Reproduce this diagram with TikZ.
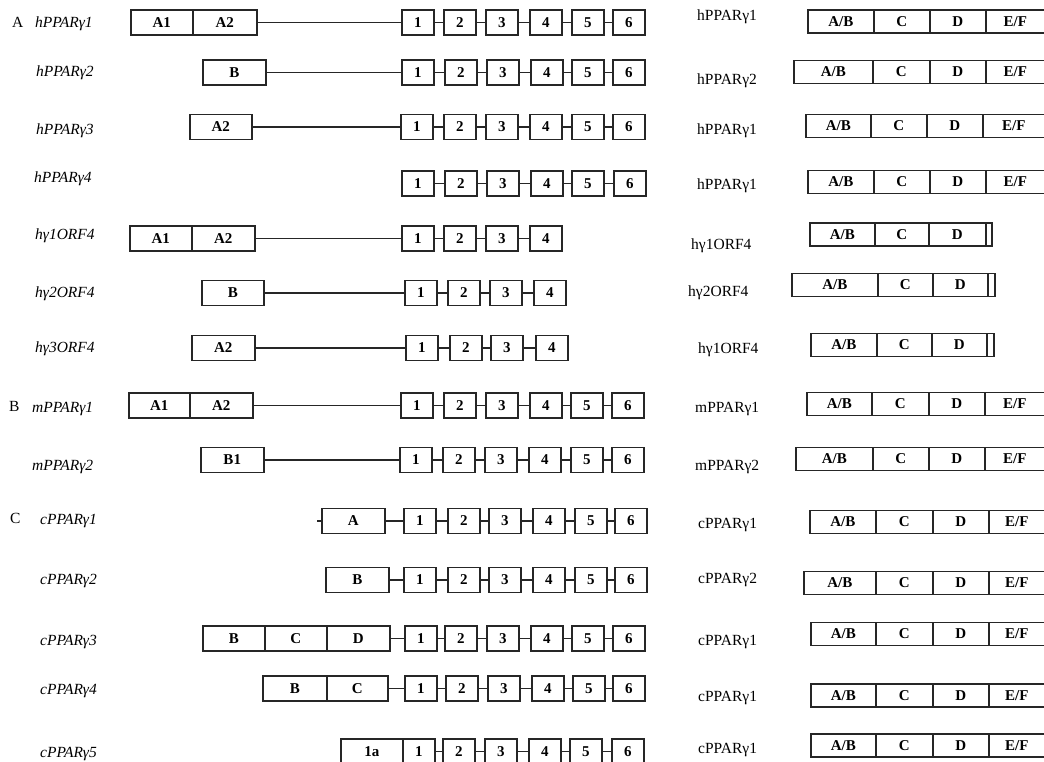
\documentclass[tikz,border=0pt]{standalone}
\usepackage{fontspec}
\setmainfont{Liberation Serif}
\tikzset{
  bx/.style={draw=black!85, line width=1.5pt, inner sep=0pt, minimum height=25pt, anchor=west,
             font=\bfseries\fontsize{15}{15}\selectfont},
  ex/.style={bx, minimum width=32pt},
  dom/.style={draw=black!85, line width=1.5pt, inner sep=0pt, minimum height=23pt, anchor=west,
             font=\bfseries\fontsize{15}{15}\selectfont},
  lnk/.style={line width=1.3pt, draw=black!85},
  ilab/.style={font=\itshape\fontsize{15.5}{15.5}\selectfont, anchor=base west, inner sep=0pt},
  rlab/.style={font=\fontsize{15.5}{15.5}\selectfont, anchor=base west, inner sep=0pt},
}
% exon row: name, y, n, list of left x
\newcommand\exonrow[4]{%
  \foreach \x [count=\i] in {#4} {\node[ex] (#1e\i) at (\x,#2) {\i};}
  \foreach \i [remember=\i as \p (initially 1)] in {2,...,#3} {\draw[lnk] (#1e\p) -- (#1e\i);}
}
% full domain row: name, y, x0, d1, d2, d3
\newcommand\domrow[6]{%
  \node[dom, minimum width=#4-#3] (#1a) at (#3,#2) {A/B};
  \node[dom, minimum width=#5-#4] (#1c) at (#4,#2) {C};
  \node[dom, minimum width=#6-#5] (#1d) at (#5,#2) {D};
  \node[dom, minimum width=1060-#6] (#1f) at (#6,#2) {\hspace*{-16pt}E/F};
}
% truncated domain row: name, y, x0, d1, d2, d3, x4
\newcommand\orfrow[7]{%
  \node[dom, minimum width=#4-#3] (#1a) at (#3,#2) {A/B};
  \node[dom, minimum width=#5-#4] (#1c) at (#4,#2) {C};
  \node[dom, minimum width=#6-#5] (#1d) at (#5,#2) {D};
  \node[dom, minimum width=#7-#6] (#1t) at (#6,#2) {};
}
\begin{document}
\begin{tikzpicture}[x=1pt,y=-1pt]
\useasboundingbox (0,0) rectangle (1044,762);
\clip (0,0) rectangle (1044,762);
\fill[white] (0,0) rectangle (1044,762);

% ---------- section letters ----------
\node[rlab] (secA) at (12,27.7) {A};
\node[rlab] (secB) at (9,411.7) {B};
\node[rlab] (secC) at (10,523.7) {C};

% ---------- left labels ----------
\node[ilab] (l1) at (35,28) {hPPARγ1};
\node[ilab] (l2) at (36,77) {hPPARγ2};
\node[ilab] (l3) at (36,135) {hPPARγ3};
\node[ilab] (l4) at (34,183) {hPPARγ4};
\node[ilab] (l5) at (35,240) {hγ1ORF4};
\node[ilab] (l6) at (35,297) {hγ2ORF4};
\node[ilab] (l7) at (35,352) {hγ3ORF4};
\node[ilab] (l8) at (32,412) {mPPARγ1};
\node[ilab] (l9) at (32,470) {mPPARγ2};
\node[ilab] (l10) at (40,524) {cPPARγ1};
\node[ilab] (l11) at (40,584) {cPPARγ2};
\node[ilab] (l12) at (40,645) {cPPARγ3};
\node[ilab] (l13) at (40,694) {cPPARγ4};
\node[ilab] (l14) at (40,757) {cPPARγ5};

% ---------- gene structures ----------
% R1
\node[bx, minimum width=62] (r1a) at (130,22.5) {A1};
\node[bx, minimum width=64] (r1b) at (192,22.5) {A2};
\exonrow{r1}{22.5}{6}{401,443,485,529,571,612}
\draw[lnk] (r1b) -- (r1e1);
% R2
\node[bx, minimum width=63] (r2a) at (202,72.5) {B};
\exonrow{r2}{72.5}{6}{401,444,486,530,571,612}
\draw[lnk] (r2a) -- (r2e1);
% R3
\node[bx, minimum width=62] (r3a) at (189,127) {A2};
\exonrow{r3}{127}{6}{400,443,485,529,571,612}
\draw[lnk] (r3a) -- (r3e1);
% R4
\exonrow{r4}{183.5}{6}{401,444,486,530,571,613}
% R5
\node[bx, minimum width=62] (r5a) at (129,238.5) {A1};
\node[bx, minimum width=63] (r5b) at (191,238.5) {A2};
\exonrow{r5}{238.5}{4}{401,443,485,529}
\draw[lnk] (r5b) -- (r5e1);
% R6
\node[bx, minimum width=62] (r6a) at (201,293) {B};
\exonrow{r6}{293}{4}{404,447,489,533}
\draw[lnk] (r6a) -- (r6e1);
% R7
\node[bx, minimum width=63] (r7a) at (191,348) {A2};
\exonrow{r7}{348}{4}{405,449,490,535}
\draw[lnk] (r7a) -- (r7e1);
% R8
\node[bx, minimum width=61] (r8a) at (128,405.5) {A1};
\node[bx, minimum width=63] (r8b) at (189,405.5) {A2};
\exonrow{r8}{405.5}{6}{400,443,485,529,570,611}
\draw[lnk] (r8b) -- (r8e1);
% R9
\node[bx, minimum width=63] (r9a) at (200,460) {B1};
\exonrow{r9}{460}{6}{399,442,484,528,570,611}
\draw[lnk] (r9a) -- (r9e1);
% R10
\node[bx, minimum width=63] (r10a) at (321,521) {A};
\exonrow{r10}{521}{6}{403,447,488,532,574,614}
\draw[lnk] (r10a) -- (r10e1);
\coordinate (r10t) at (317,521);
\draw[lnk] (r10t) -- (r10a.west);
% R11
\node[bx, minimum width=63] (r11a) at (325,580) {B};
\exonrow{r11}{580}{6}{403,447,488,532,574,614}
\draw[lnk] (r11a) -- (r11e1);
% R12
\node[bx, minimum width=62] (r12a) at (202,638.5) {B};
\node[bx, minimum width=62] (r12b) at (264,638.5) {C};
\node[bx, minimum width=63] (r12c) at (326,638.5) {D};
\exonrow{r12}{638.5}{6}{404,444,486,530,571,612}
\draw[lnk] (r12c) -- (r12e1);
% R13
\node[bx, minimum width=64] (r13a) at (262,688.5) {B};
\node[bx, minimum width=61] (r13b) at (326,688.5) {C};
\exonrow{r13}{688.5}{6}{404,445,487,531,572,612}
\draw[lnk] (r13b) -- (r13e1);
% R14
\node[bx, minimum width=62] (r14a) at (340,751.5) {1a};
\exonrow{r14}{751.5}{6}{402,442,484,528,569,611}

% ---------- right labels ----------
\node[rlab] (q1) at (697,21) {hPPARγ1};
\node[rlab] (q2) at (697,85) {hPPARγ2};
\node[rlab] (q3) at (697,135) {hPPARγ1};
\node[rlab] (q4) at (697,190) {hPPARγ1};
\node[rlab] (q5) at (691,249) {hγ1ORF4};
\node[rlab] (q6) at (688,296) {hγ2ORF4};
\node[rlab] (q7) at (698,353) {hγ1ORF4};
\node[rlab] (q8) at (695,412) {mPPARγ1};
\node[rlab] (q9) at (695,470) {mPPARγ2};
\node[rlab] (q10) at (698,528) {cPPARγ1};
\node[rlab] (q11) at (698,583) {cPPARγ2};
\node[rlab] (q12) at (698,645) {cPPARγ1};
\node[rlab] (q13) at (698,701) {cPPARγ1};
\node[rlab] (q14) at (698,753) {cPPARγ1};

% ---------- protein domains ----------
\domrow{p1}{21.5}{807}{873}{929}{985}
\domrow{p2}{72}{793}{872}{929}{985}
\domrow{p3}{126}{805}{870}{926}{982}
\domrow{p4}{182}{807}{873}{929}{985}
\orfrow{p5}{234.5}{809}{874}{928}{985}{991}
\orfrow{p6}{285}{791}{877}{932}{987}{994}
\orfrow{p7}{345}{810}{876}{931}{986}{993}
\domrow{p8}{404}{806}{871}{928}{984}
\domrow{p9}{459}{795}{872}{928}{984}
\domrow{p10}{522}{809}{875}{932}{988}
\domrow{p11}{583}{803}{875}{932}{988}
\domrow{p12}{634}{810}{875}{932}{988}
\domrow{p13}{695.5}{810}{875}{932}{988}
\domrow{p14}{745.5}{810}{875}{932}{988}
\end{tikzpicture}
\end{document}
